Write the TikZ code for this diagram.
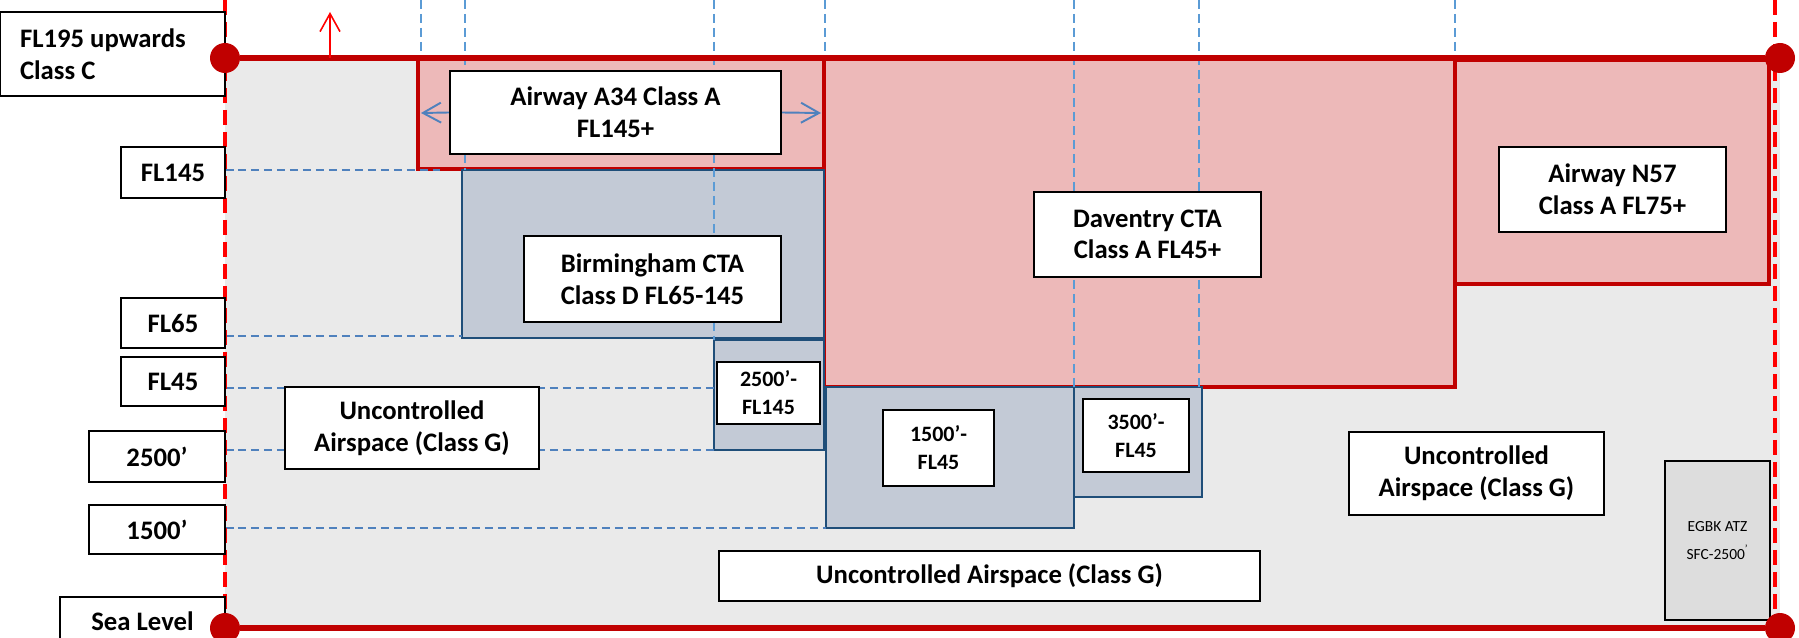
\documentclass[tikz,border=0pt]{standalone}
\usepackage{fontspec}
\setmainfont{Carlito}
\usetikzlibrary{arrows.meta}

\definecolor{airred}{HTML}{C00000}
\definecolor{redfill}{HTML}{EDB9B9}
\definecolor{bluefill}{HTML}{C3CAD6}
\definecolor{blueedge}{HTML}{1F4E79}
\definecolor{guideblue}{HTML}{5B9BD5}
\definecolor{levelblue}{HTML}{4F81BD}
\definecolor{groundgrey}{HTML}{EAEAEA}
\definecolor{atzgrey}{HTML}{DDDDDD}

\tikzset{
  boxsize/.style 2 args={minimum width=#1*0.02cm, minimum height=#2*0.02cm},
  lbl/.style={draw=black, fill=white, line width=1.4pt, inner sep=0pt, align=center,
    font=\bfseries\fontsize{15.2}{18}\selectfont},
  smalllbl/.style={lbl, font=\bfseries\fontsize{12.5}{16}\selectfont},
  atz/.style={draw=black, fill=atzgrey, line width=1.2pt, inner sep=0pt, align=center,
    font=\fontsize{8.8}{15.5}\selectfont},
  redzone/.style={draw=airred, fill=redfill, line width=2.3pt},
  bluezone/.style={draw=blueedge, fill=bluefill, line width=1.6pt},
  vguide/.style={guideblue, line width=1.4pt, dash pattern=on 0.18cm off 0.1cm},
  hguide/.style={levelblue, line width=1.3pt, dash pattern=on 0.17cm off 0.09cm},
  limit/.style={red, line width=2.2pt, dash pattern=on 0.3cm off 0.14cm},
  base/.style={airred, line width=3.4pt},
  dot/.style={circle, fill=airred, inner sep=0pt, minimum size=0.6cm},
  spread/.style={levelblue, line width=1.1pt, -{Straight Barb[length=0.36cm, width=0.4cm]}},
  upward/.style={red, line width=0.9pt, -{Straight Barb[length=0.36cm, width=0.4cm]}},
}

\begin{document}
\begin{tikzpicture}[x=0.02cm, y=-0.02cm]
  \useasboundingbox (0,0) rectangle (1799,638);

  % ground up to FL195
  \fill[groundgrey] (225,58) rectangle (1780,628);

  % controlled airspace
  \draw[redzone] (418,58) rectangle (824,169);
  \draw[redzone] (824,58) rectangle (1455,387);
  \draw[redzone] (1455,60) rectangle (1769,284);
  \draw[bluezone] (462,170) rectangle (824,338);
  \draw[bluezone] (714,340) rectangle (824,450);
  \draw[bluezone] (826,387) rectangle (1074,528);
  \draw[bluezone] (1074,387) rectangle (1202,497);

  % lateral limits
  \draw[vguide] (421,0) -- (421,58);
  \draw[vguide] (465,0) -- (465,170);
  \draw[vguide] (714,0) -- (714,340);
  \draw[vguide] (825,0) -- (825,58);
  \draw[vguide] (1074,0) -- (1074,387);
  \draw[vguide] (1199,0) -- (1199,387);
  \draw[vguide] (1455,0) -- (1455,58);

  % levels
  \draw[hguide] (225,170) -- (440,170);
  \draw[hguide] (225,336) -- (462,336);
  \draw[hguide] (225,388) -- (714,388);
  \draw[hguide] (225,450) -- (714,450);
  \draw[hguide] (225,528) -- (826,528);

  \draw[limit] (225,0) -- (225,628);
  \draw[limit] (1775,0) -- (1775,628);

  % level labels
  \node[lbl, boxsize={225}{84}, text width=3.7cm, align=flush left] (fl195) at (112.5,54) {FL195 upwards\\Class C};
  \node[lbl, boxsize={104}{51}] (fl145) at (173,172.5) {FL145};
  \node[lbl, boxsize={104}{50}] (fl65) at (173,323) {FL65};
  \node[lbl, boxsize={104}{49}] (fl45) at (173,381.5) {FL45};
  \node[lbl, boxsize={136}{51}] (ft2500) at (157,456.5) {2500’};
  \node[lbl, boxsize={136}{49}] (ft1500) at (157,529.5) {1500’};
  \node[lbl, boxsize={165}{49}] (sealevel) at (142.5,621.5) {Sea Level};

  % airspace labels
  \node[lbl, boxsize={331}{83}] (a34lbl) at (615.5,112.5) {Airway A34 Class A\\FL145+};
  \node[lbl, boxsize={257}{86}] (bhxlbl) at (652.5,279) {Birmingham CTA\\Class D FL65-145};
  \node[smalllbl, boxsize={103}{62}] (bhxlow) at (768.5,393) {2500’-\\FL145};
  \node[lbl, boxsize={227}{85}] (dtylbl) at (1147.5,234.5) {Daventry CTA\\Class A FL45+};
  \node[lbl, boxsize={227}{85}] (n57lbl) at (1612.5,189.5) {Airway N57\\Class A FL75+};
  \node[smalllbl, boxsize={111}{76}] (dtylow) at (938.5,448) {1500’-\\FL45};
  \node[smalllbl, boxsize={106}{73}] (dtyhigh) at (1136,435.5) {3500’-\\FL45};
  \node[lbl, boxsize={254}{82}] (uncwest) at (412,428) {Uncontrolled\\Airspace (Class G)};
  \node[lbl, boxsize={255}{83}] (unceast) at (1476.5,473.5) {Uncontrolled\\Airspace (Class G)};
  \node[lbl, boxsize={541}{50}] (uncsouth) at (989.5,576) {Uncontrolled Airspace (Class G)};
  \node[atz, boxsize={105}{159}] (egbk) at (1717.5,540.5) {EGBK ATZ\\SFC-2500\textsuperscript{’}};

  % FL195 and sea level
  \node[dot] (tl) at (225,58) {};
  \node[dot] (tr) at (1780,58) {};
  \node[dot] (bl) at (225,628) {};
  \node[dot] (br) at (1780,628) {};
  \draw[base] (tl) -- (tr);
  \draw[base] (bl) -- (br);

  \coordinate (ceil) at (330,58);
  \coordinate (ceiltop) at (330,12);
  \draw[upward] (ceil) -- (ceiltop);

  \coordinate (a34w) at (421,113);
  \coordinate (a34e) at (821,113);
  \draw[spread] (a34lbl.west) -- (a34w);
  \draw[spread] (a34lbl.east) -- (a34e);
\end{tikzpicture}
\end{document}
